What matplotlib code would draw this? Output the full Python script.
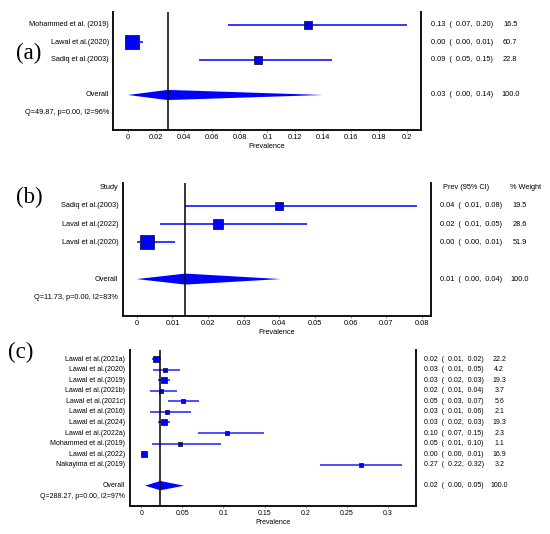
import matplotlib
matplotlib.use("Agg")
import matplotlib.pyplot as plt
import matplotlib.transforms as mtransforms
import numpy as np

plt.rcParams['font.family'] = ['Liberation Sans', 'DejaVu Sans']

# ---------------- data ----------------
# panel (a)
a_studies = ["Mohammed et al. (2019)", "Lawal et al.(2020)", "Sadiq et al.(2003)"]
a_prev = [0.129, 0.003, 0.093]
a_low = [0.072, 0.0, 0.051]
a_high = [0.200, 0.0108, 0.146]
a_weight = [16.5, 60.7, 22.8]
a_overall_prev, a_overall_low, a_overall_high, a_overall_weight = 0.0284, 0.0, 0.140, 100.0
a_het = "Q=49.87, p=0.00, I2=96%"
a_ticks = [0, 0.02, 0.04, 0.06, 0.08, 0.1, 0.12, 0.14, 0.16, 0.18, 0.2]
a_ticklabels = ["0", "0.02", "0.04", "0.06", "0.08", "0.1", "0.12", "0.14", "0.16", "0.18", "0.2"]

# panel (b)
b_studies = ["Sadiq et al.(2003)", "Laval et al.(2022)", "Laval et al.(2020)"]
b_prev = [0.040, 0.0228, 0.0028]
b_low = [0.0136, 0.0064, 0.0]
b_high = [0.0785, 0.0477, 0.0108]
b_weight = [19.5, 28.6, 51.9]
b_overall_prev, b_overall_low, b_overall_high, b_overall_weight = 0.0136, 0.0, 0.0403, 100.0
b_het = "Q=11.73, p=0.00, I2=83%"
b_ticks = [0, 0.01, 0.02, 0.03, 0.04, 0.05, 0.06, 0.07, 0.08]
b_ticklabels = ["0", "0.01", "0.02", "0.03", "0.04", "0.05", "0.06", "0.07", "0.08"]

# panel (c)
c_studies = ["Lawal et al.(2021a)", "Lawal et al.(2020)", "Lawal et al.(2019)",
             "Lawal et al.(2021b)", "Lawal et al.(2021c)", "Lawal et al.(2016)",
             "Lawal et al.(2024)", "Lawal et al.(2022a)", "Mohammed et al.(2019)",
             "Lawal et al.(2022)", "Nakayima et al.(2019)"]
c_prev = [0.018, 0.0286, 0.0274, 0.024, 0.0505, 0.0312, 0.0274, 0.104, 0.047, 0.0034, 0.267]
c_low = [0.0124, 0.0137, 0.020, 0.0103, 0.033, 0.0107, 0.020, 0.0684, 0.0128, 0.0, 0.218]
c_high = [0.0244, 0.047, 0.0346, 0.0436, 0.070, 0.0607, 0.0346, 0.1496, 0.097, 0.0073, 0.318]
c_weight = [22.2, 4.2, 19.3, 3.7, 5.6, 2.1, 19.3, 2.3, 1.1, 16.9, 3.2]
c_overall_prev, c_overall_low, c_overall_high, c_overall_weight = 0.0231, 0.0045, 0.052, 100.0
c_het = "Q=288.27, p=0.00, I2=97%"
c_ticks = [0, 0.05, 0.1, 0.15, 0.2, 0.25, 0.3]
c_ticklabels = ["0", "0.05", "0.1", "0.15", "0.2", "0.25", "0.3"]

W, H = 550, 534
fig = plt.figure(figsize=(W / 100, H / 100), dpi=100)
PX2PT = 0.72


def fmt_ci(p, lo, hi):
    return f"{p:.2f}  (  {lo:.2f},  {hi:.2f})"


def panel(rect_px, studies, prev, low, high, weight, ov, het, ticks, ticklabels,
          xlim, ylim, ov_row, size_fn, dhalf, fs, label_right, val_x, w_x,
          letter, letter_xy, line_color, line_w, header=None):
    l, t, r, b = rect_px
    ax = fig.add_axes([l / W, 1 - b / H, (r - l) / W, (b - t) / H])
    rows = np.arange(len(studies))
    ax.hlines(rows, low, high, color=line_color, lw=line_w, zorder=2)
    for i in rows:
        ms = size_fn(weight[i]) * PX2PT
        ax.plot(prev[i], i, marker='s', ms=ms, mfc='#0000ff', mec='#1a1a40',
                mew=0.6, zorder=3)
    op, olo, ohi, ow = ov
    ax.fill([olo, op, ohi, op], [ov_row, ov_row - dhalf, ov_row, ov_row + dhalf],
            color='#0000ff', lw=0, zorder=2)
    ax.axvline(op, color='black', lw=1.1, zorder=4)
    ax.set_xlim(*xlim)
    ax.set_ylim(*ylim)
    ax.set_yticks([])
    ax.set_xticks(ticks)
    ax.set_xticklabels(ticklabels, fontsize=fs)
    ax.tick_params(axis='x', length=1.5, width=0.5, pad=1.5, color='#666666')
    ax.set_xlabel("Prevalence", fontsize=fs, labelpad=1.5)
    ax.spines['top'].set_visible(False)
    for s in ['left', 'right', 'bottom']:
        ax.spines[s].set_linewidth(1.4)
        ax.spines[s].set_color('#111111')
    tr = mtransforms.blended_transform_factory(fig.transFigure, ax.transData)
    lx = label_right / W
    for i, s in enumerate(studies):
        ax.text(lx, i, s, transform=tr, ha='right', va='center', fontsize=fs)
        ax.text(val_x / W, i, fmt_ci(prev[i], low[i], high[i]), transform=tr,
                ha='left', va='center', fontsize=fs)
        ax.text(w_x / W, i, f"{weight[i]:.1f}", transform=tr, ha='center',
                va='center', fontsize=fs)
    ax.text(lx, ov_row, "Overall", transform=tr, ha='right', va='center', fontsize=fs)
    ax.text(val_x / W, ov_row, fmt_ci(op, olo, ohi), transform=tr, ha='left',
            va='center', fontsize=fs)
    ax.text(w_x / W, ov_row, f"{ow:.1f}", transform=tr, ha='center', va='center', fontsize=fs)
    ax.text(lx, ov_row + 1, het, transform=tr, ha='right', va='center', fontsize=fs)
    if header is not None:
        hx1, hx2 = header
        ax.text(lx, -1, "Study", transform=tr, ha='right', va='center', fontsize=fs)
        ax.text(hx1 / W, -1, "Prev (95% CI)", transform=tr, ha='left', va='center', fontsize=fs)
        ax.text(hx2 / W, -1, "% Weight", transform=tr, ha='left', va='center', fontsize=fs)
    fig.text(letter_xy[0] / W, 1 - letter_xy[1] / H, letter, ha='center', va='center',
             family='Liberation Serif', fontsize=16.5)
    return ax


panel((113, 12, 421, 130), a_studies, a_prev, a_low, a_high, a_weight,
      (a_overall_prev, a_overall_low, a_overall_high, a_overall_weight), a_het,
      a_ticks, a_ticklabels, (-0.01076, 0.2101), (6.0, -0.74), 4,
      lambda w: 1.75 * np.sqrt(w), 0.29, 5.35, 109, 430.7, 510.2,
      "(a)", (28.9, 53.3), '#0000ff', 1.1)

panel((122.8, 183.3, 430.7, 315.7), b_studies, b_prev, b_low, b_high, b_weight,
      (b_overall_prev, b_overall_low, b_overall_high, b_overall_weight), b_het,
      b_ticks, b_ticklabels, (-0.00393, 0.08244), (6.0, -1.23), 4,
      lambda w: 1.88 * np.sqrt(w), 0.3, 5.35, 118.2, 440, 520,
      "(b)", (29.3, 197), '#0000ff', 1.1, header=(442.7, 510))

panel((129.8, 350, 415.6, 505.7), c_studies, c_prev, c_low, c_high, c_weight,
      (c_overall_prev, c_overall_low, c_overall_high, c_overall_weight), c_het,
      c_ticks, c_ticklabels, (-0.01413, 0.3341), (13.9, -0.88), 12,
      lambda w: 3.4 + 0.55 * np.sqrt(w), 0.44, 5.0, 125.2, 424.4, 499.3,
      "(c)", (20.2, 352), '#3f3fff', 1.3)

fig.savefig("out.png", dpi=100)
